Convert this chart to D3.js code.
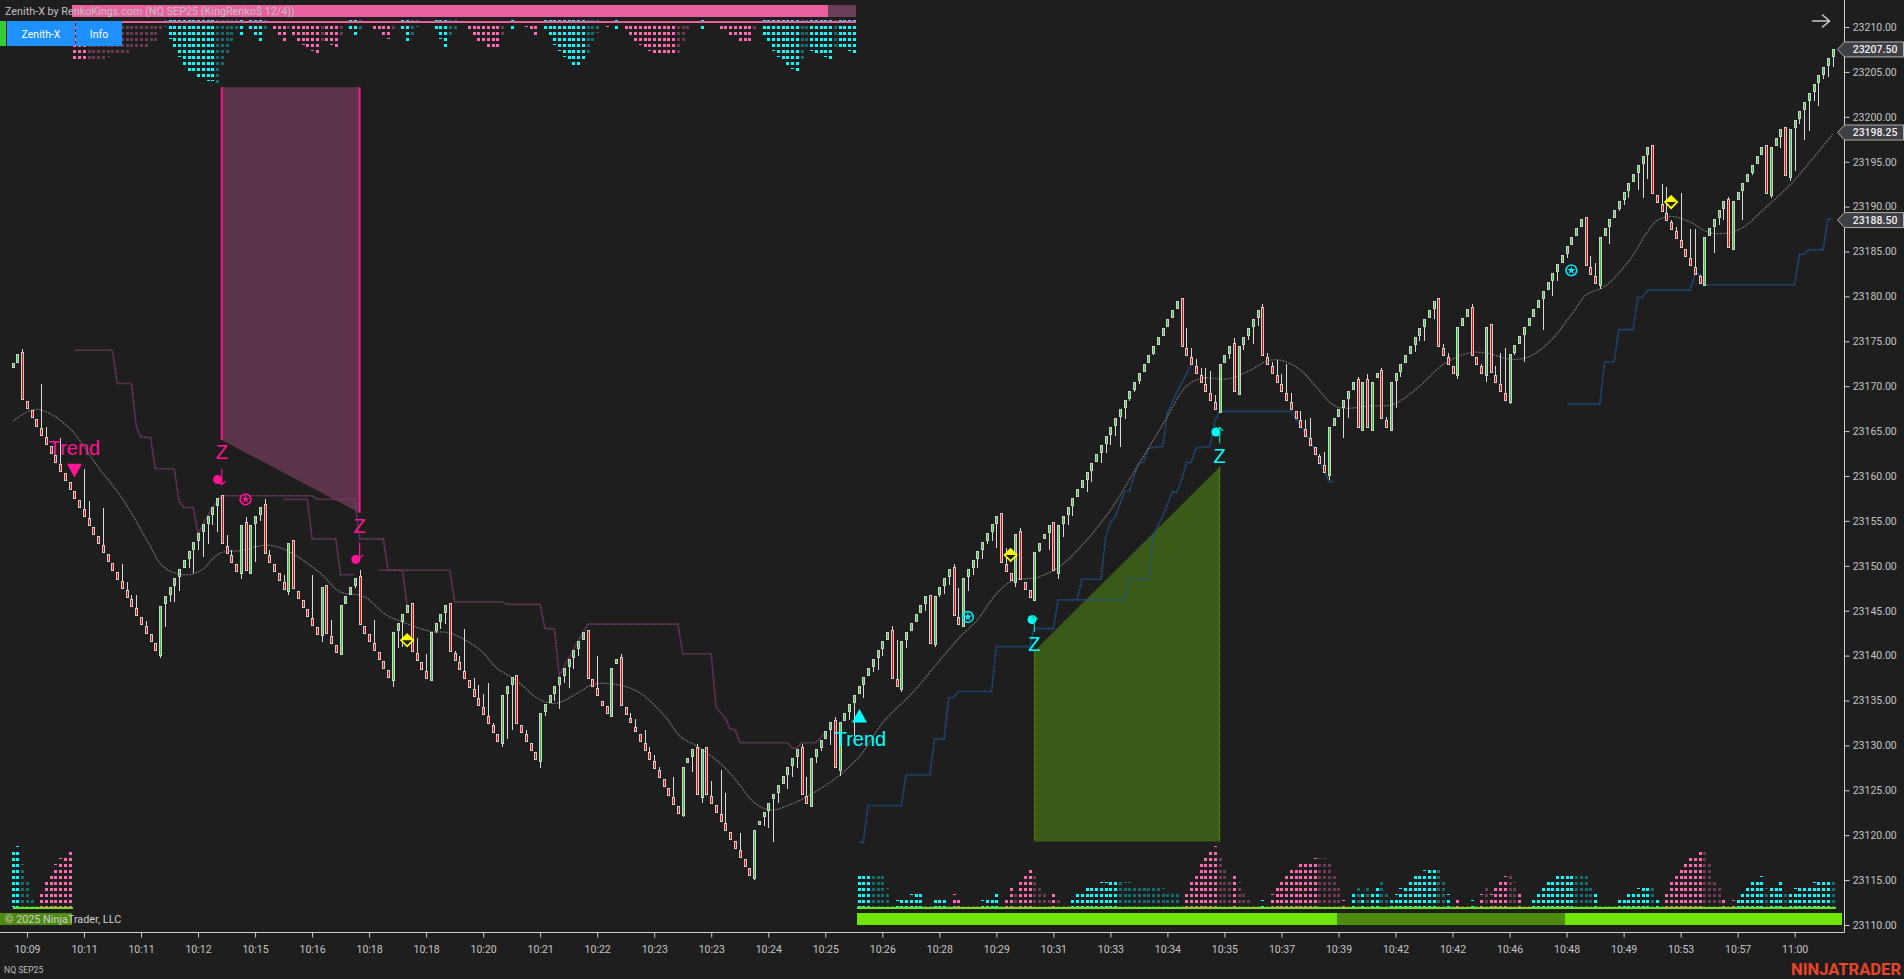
<!DOCTYPE html>
<html><head><meta charset="utf-8">
<script src="https://cdn.jsdelivr.net/npm/d3@7"></script>
<style>html,body{margin:0;padding:0;background:#1e1e1e;overflow:hidden}svg{display:block}</style>
</head><body>
<script>
// ---- values, in points above this base price ----
const basePrice = 23000;
const barCloses = [
172.6,173.6,168.6,167.6,166.6,165.6,164.6,163.6,162.6,161.6,160.6,159.6,158.6,157.6,156.6,155.6,154.6,153.6,152.6,151.6,
150.6,149.6,148.6,147.6,146.6,145.6,144.6,143.6,142.6,141.6,140.6,145.5,146.6,147.6,148.6,149.6,150.6,151.6,152.6,153.6,
154.6,155.6,156.6,157.6,152.5,151.5,150.5,149.5,154.5,149.5,154.5,155.5,156.5,151.4,150.4,149.4,148.4,147.4,152.5,147.5,
146.4,145.4,144.4,143.4,142.4,147.6,142.6,141.4,140.4,145.6,146.6,147.6,148.6,143.6,142.6,141.6,140.6,139.6,138.6,137.6,
142.6,143.6,144.6,145.6,140.5,139.5,138.5,137.5,142.6,143.6,144.6,145.6,140.5,139.5,138.5,137.5,136.5,135.5,134.5,133.5,
132.5,131.5,130.5,135.6,136.6,137.6,132.5,131.5,130.5,129.5,128.5,133.6,134.6,135.6,136.6,137.6,138.6,139.6,140.6,141.6,
142.6,137.6,136.6,135.6,134.6,133.6,138.6,139.6,134.5,133.5,132.5,131.5,130.5,129.5,128.5,127.5,126.5,125.5,124.5,123.5,
122.5,127.6,128.6,129.6,124.6,129.6,124.6,123.6,122.6,121.6,120.6,119.6,118.6,117.6,116.6,115.6,120.6,121.6,122.6,123.6,
124.6,125.6,126.6,127.6,128.6,129.6,124.6,123.6,128.6,129.6,130.6,131.6,132.6,127.6,132.6,133.6,134.6,135.6,136.6,137.6,
138.6,139.6,140.6,141.6,142.6,137.6,136.6,141.6,142.6,143.6,144.6,145.6,146.6,141.5,146.6,147.6,148.6,149.6,144.6,143.6,
148.6,149.6,150.6,151.6,152.6,153.6,154.6,155.6,150.4,149.4,148.4,153.5,148.5,147.5,146.5,151.5,152.5,153.5,154.5,149.5,
154.5,155.5,156.5,157.5,158.5,159.5,160.5,161.5,162.5,163.5,164.5,165.5,166.5,167.5,168.5,169.5,170.5,171.5,172.5,173.5,
174.5,175.5,176.5,177.5,178.5,179.5,174.5,173.5,172.5,171.5,170.5,169.5,168.5,167.5,172.5,173.5,174.5,169.5,174.5,175.5,
176.5,177.5,178.5,173.5,172.5,171.5,170.5,169.5,168.5,167.5,166.5,165.5,164.5,163.5,162.5,161.5,160.5,165.5,166.5,167.5,
168.5,169.5,170.5,165.5,170.5,165.5,170.5,171.5,166.5,165.5,170.5,171.5,172.5,173.5,174.5,175.5,176.5,177.5,178.5,179.5,
174.5,173.5,172.5,171.5,176.6,177.6,178.6,173.5,172.5,171.5,176.6,171.5,170.5,169.5,168.5,173.6,174.6,175.6,176.6,177.6,
178.6,179.6,180.6,181.6,182.6,183.6,184.6,185.6,186.6,187.6,188.6,183.5,182.5,181.5,186.6,187.6,188.6,189.6,190.6,191.6,
192.6,193.6,194.6,195.6,196.6,191.5,190.5,189.5,188.5,187.5,186.5,185.5,184.5,183.5,182.5,181.5,186.6,187.6,188.6,189.6,
190.6,185.5,190.6,191.6,192.6,193.6,194.6,195.6,196.6,191.5,196.6,197.6,198.6,193.5,198.6,199.6,200.6,201.6,202.6,203.6,
204.6,205.6,206.6,207.6];
const barOpensTall = [
[0,172.2],[1,172.7],[2,173.8],[31,140],[44,157.9],[48,149.2],[49,154.9],[50,149.2],[53,156.9],[58,147.2],[59,152.9],[65,142.2],[66,147.9],
[69,140.1],[73,148.9],[80,137.3],[84,145.9],[88,137.2],[92,145.9],[103,130.3],[106,137.8],[111,128.3],[121,142.9],[124,135],[126,133.3],
[127,139.1],[128,139.8],[130,133],[131,132],[141,122.2],[142,128.2],[144,129.8],[145,124.3],[146,129.8],[156,115.3],[157,121.3],[158,122.1],
[160,124.1],[166,129.8],[168,123.3],[173,132.8],[174,127.3],[185,142.9],[187,136.3],[193,146.8],[194,141.3],[198,149.9],[200,143.3],
[208,155.9],[211,148.2],[212,153.9],[215,146.2],[217,153],[219,154.9],[220,149.2],[246,179.8],[254,167.2],[257,174.8],[258,169.2],
[263,178.8],[277,160.2],[283,170.8],[284,165.2],[285,170.8],[286,165.2],[287,171],[288,171.8],[290,165.2],[300,179.8],[304,171.2],
[307,178.8],[310,171.2],[311,176.9],[315,168.2],[331,188.8],[334,181.2],[345,196.9],[356,181.2],[361,190.9],[362,185.2],[369,196.9],
[370,191.2],[373,198.9],[374,193.2]];
const wickTips = [
[2,174.1],[6,170.2],[7,165.5],[10,164.2],[15,160.8],[16,157.2],[19,156.4],[23,150.2],[24,148.2],[25,146.7],[26,146.7],[28,143.8],
[31,139.7],[32,143.2],[33,146],[34,146],[35,147.2],[37,149.8],[38,149.2],[39,151.8],[40,151],[41,152.4],[42,154.5],[43,153.8],
[45,153.4],[46,151.8],[47,150.2],[48,148.5],[49,155.4],[51,150.4],[52,155],[53,157.4],[54,151.8],[56,149],[57,149],[58,146.7],
[60,147],[63,149],[65,141.5],[67,144],[72,147.5],[73,149.5],[76,144],[80,136.5],[81,140.8],[82,141],[83,145],[85,142],[86,139],[87,140.2],
[89,142.5],[90,143],[91,143.5],[93,140.5],[94,140],[95,143],[97,137.5],[98,136.7],[99,135.7],[100,137],[101,132.5],[103,129.8],[104,130.7],
[105,131.7],[108,131.7],[110,129],[111,127.5],[112,133.3],[113,134.8],[114,135],[115,134],[116,137],[117,136.4],[118,138.5],[119,140],
[123,140],[128,140.2],[130,133.6],[131,132.9],[133,131.7],[134,129.8],[135,128.9],[136,127.6],[139,126.5],[141,122],[143,127],[144,130.2],
[145,123.6],[147,126],[149,127.3],[150,124.7],[153,120.2],[156,115],[158,121],[159,120.8],[160,119.2],[161,123.6],[163,125.2],[164,126.5],
[165,127.5],[166,130.2],[167,126.5],[169,128],[170,129.4],[172,130],[173,133.2],[174,126.6],[176,132.8],[177,131],[179,135.3],[181,138.2],
[182,138.4],[183,140],[185,143.3],[186,141.7],[187,135.9],[188,140.8],[191,144.8],[192,145],[194,141],[195,146.5],[196,146.9],[197,147.9],
[198,150.2],[199,147.5],[201,147.2],[202,149],[203,149.7],[204,150.8],[205,152.4],[206,152.8],[207,152],[209,152],[211,147.6],[212,154.2],
[214,146.7],[216,151.5],[218,151.8],[220,148.5],[221,153.2],[222,154.5],[223,155.5],[226,158.2],[227,159.3],[229,161.5],[230,162.6],
[231,163.5],[232,164.5],[233,163.2],[234,166.4],[235,168.3],[236,169.3],[237,170.3],[239,172.6],[240,173.5],[247,176.5],[248,174.3],
[249,173],[250,172],[251,172],[252,171.7],[253,169],[256,173],[257,175.4],[259,174],[260,175.2],[261,174.7],[262,176.7],[263,179.2],
[264,173.7],[265,172.7],[266,172.9],[267,171.4],[268,172.5],[269,169.2],[271,167.2],[272,166.2],[273,166.5],[275,162.5],[276,162.7],
[277,159.6],[280,164.2],[281,166.5],[282,169.6],[283,171],[284,165],[285,171.4],[286,165],[288,172],[289,166.6],[291,167.6],[292,171],
[295,173.8],[296,175],[297,175],[298,177.6],[299,177.5],[301,174.7],[302,173.7],[304,170.8],[307,179.2],[309,172.5],[310,170.5],[312,172.2],
[313,173.7],[314,174.2],[315,168],[316,173.5],[318,172.7],[322,176.3],[324,180],[325,181.7],[327,184.3],[332,184.5],[333,183.7],[334,180.8],
[336,185.8],[338,189.5],[339,190.2],[340,191],[342,191.8],[343,191],[344,193.1],[347,192.5],[348,192.2],[349,188.5],[350,187.7],[351,191.5],
[353,187.5],[354,187.5],[355,182.4],[358,184.8],[359,188],[360,188.5],[361,191.1],[364,188.5],[366,193.5],[370,191],[372,196.5],[374,192.8],
[375,194],[376,199.2],[377,197.4],[378,198.4],[379,201.8],[380,201.2],[381,204.2],[382,204.4],[383,205.5]];
const averageKnots = [
[0,166.1],[4,167.35],[6.4,167.3],[12,165.3],[17.7,161.2],[23.3,157.3],[28.2,152.9],[31.7,149.9],[35.9,149],[39.4,149.4],[43.6,151.4],[47.9,151.7],
[53.5,152.3],[57.7,151.7],[64.7,149.2],[68.9,147.1],[73.8,146.6],[78.7,144.5],[82.2,143.7],[87.9,142.7],[92.1,142.5],[98.4,140.6],[101.9,138.6],
[106.1,137.2],[110,135.4],[113.1,134.7],[115.2,134.8],[119.4,136],[122.2,136.8],[127.9,136.7],[132.1,135.8],[137,133.4],[140.5,131],[144,129.9],
[148.9,128],[152.4,126],[155.9,123.7],[159.4,122.8],[163.6,123.4],[168.5,124.7],[173.8,126.6],[178.4,128.9],[183.2,132.6],[189.6,136],[194.5,139.1],
[199.4,142.1],[203,144],[207.2,147],[210.7,148.4],[215.6,148.7],[220.5,150],[225.4,152.5],[231,156.2],[236.6,161],[242.2,165.9],[247.2,170.1],
[250.6,170.9],[255.6,170.8],[260.5,171.8],[264,172.8],[266.8,172.9],[271,171.8],[274.5,169.8],[278.7,167.7],[285.7,167.8],[290.6,168],[295.6,169.8],
[301,172.4],[306.4,173.7],[310,173.7],[315.4,173],[319.1,173.3],[323.7,175.1],[328.2,178.1],[331.2,180.2],[335,181.1],[340.2,184],[344,187.2],
[346.2,188.5],[349.2,188.9],[352.9,188.3],[357.1,187.1],[361.2,187.1],[364.2,187.7],[368.7,189.8],[374,192.4],[379.2,195.6],[383,198.1]];
const pinkStopLines = [
[[13,174],[21,174],[22,170.3],[25,170.3],[26,165.5],[27,164.3],[29,164.3],[30,160.8],[34,160.8],[35,157.2],[36,156.5],[38,156.5],[39,153.6],[42,156.5],[44,157.8],
 [63,157.8],[64,157.4],[72,157.4],[73,153],[78,153],[79,149.5],[92,149.5],[93,146],[103,146],[104,145.7],[111,145.7],[112,143],[114,143],[115,137.8],[121,143.5],
 [140,143.5],[141,140.2],[147,140.2],[148,134.3],[150,133],[151,131.8],[152,131.8],[153,130.3],[163,130.3],[164,129.7],[165,129.7],[166,130.3],[169,130.3],[171,131.4]],
[[57,157.4],[62,157.4],[63,153],[68,153],[69,149],[72,149]],
[[77,149.5],[82,149.5],[83,145.6]]];
const blueStopLines = [
[[178.2,119.2],[179,119.2],[180,123.3],[187,123.3],[188,126.7],[193,126.7],[194,130.7],[196,130.7],[197,135.3],[198,135.3],[199,136],[206,136],[207,141],[214,141],
 [215,143],[219,143],[220,146.2],[224,146.2],[225,148.5],[229,148.5],[230,153.2],[231,154.8],[232,155.4],[234,158.3],[235,158.3],[236,160],[237,161.5],[238,161.5],
 [239,163.1],[242,163.3],[243,167],[244.4,168.7],[248,172.4]],
[[224,146.2],[234,146.2],[235,148.5],[239,148.5],[240,153.4],[242,155.5],[244,158.2],[245,158.2],[246,159.6],[247,161.5],[248,161.5],[249,163.1],[252,163.3],[253,166.2],
 [254,167.2],[269,167.2],[273,164],[277,159.4],[278,159.4]],
[[327.2,168],[334,168],[335,172.7],[337,172.7],[338,176.3],[341,176.3],[342,179.9],[343,179.9],[344,180.7],[353,180.7],[354,182.5],[355,182.5],[356,181.3],[375,181.3],
 [376,184.7],[377,184.7],[378,185.2],[381,185.2],[382,188.6],[383,188.6]]];
const pinkArea = [[44,203.3,164],[73,203.3,155.9]];
const greenArea = [[215,140.5,119.3],[254,161,119.3]];
// oscillator dots: + cyan, - pink, .5 means a short top dot; one entry per bar
const oscillator = [
9,9.5,6.5,4,1,0,-2,-4,-5,-6.5,-7.5,-8,-9,-6,-6,-6,-6,-6,-6,-6,-5.4,-5,-5,-5,-5,-4,-4,-4,-4,-3,-3,-1,.5,2.5,4,5.5,7,8,8,9,
9,9.5,9.5,10,7,5,3,1,2,0,1,2,3,1,0,-1,-2,-3,-1,-2,-3,-3.5,-4,-4.5,-5,-3,-3,-3.5,-4,-2,0,1,2,1,0,0,-1,-1,-2,-2.5,
-1,0,1,3,2,.5,0,0,0,1,2.5,4,2,1,0,0,-1,-2,-3,-3,-4,-4,-4,-2,0,1,0,0,-.5,-1,-2,0,1,2,3.5,4.5,5.5,6,7,7,
6,5,3,1.5,0,-.5,0,1,0,-1,-2,-3,-3.5,-4,-4.5,-5,-5,-5,-5,-5,-5,-3,-1,0,0,1,0,0,0,-1,-1,-2,-2,-3,-3,-3,-1,0,2,3,
4.5,5.5,6,7,7.5,8,6,4,4.5,5,5,5.5,6,4,4,4,4.5,5,5,5,5,5,5,5,2.5,0,.5,1,1,1.5,2,2,0,0,1,1,1,0,-1.5,-1,
0,0,0,0,.5,1,1,2,0,-1,-3,-2,-4,-5,-6,-5,-3,-2,-1,-2,-1,0,0,1,2,2,3,3,3,3.5,3.5,4,4,4,3.5,3.5,3,3,3,3,
3,3,2.5,2,2,2,0,-2,-4,-5,-7,-8,-9,-9.5,-8,-6,-4,-5,-3.5,-2,-1,0,0,.5,0,-1.5,-3,-4,-5,-6,-6,-7,-7,-7,-7.5,-7.5,-7.5,-7,-5,-3,
-.5,0,2,3,2,3,2,3,4,2,1,1.5,2.5,3,4,5,5,5.5,6,6,6,4,1.5,0,-1,0,0,.5,0,-1.5,-3,-1.5,-3,-4,-4.5,-5,-3.5,-2,0,0,
1,2,3,4,4,5,5,5,5,5,5,5,3,2,0,0,0,0,1,1,2,2,2.5,3,3,3,1,-0,-2,-4,-5,-6,-7,-8,-8,-9,-9,-7,-4,-3,
-1,0,-.5,1,2,3,4,4,4.5,2.5,3,3,4,2,2,2.5,3,3,3,3.5,4,4,4,4];
const dimmedBars = [2,3,4,16,17,18,19,20,21,22,23,24,25,26,27,28,29,30,31,32,43,44,45,46,47,53,58,65,69,73,80,84,85,92,93,103,121,122,123,140,141,142,156,
166,167,173,181,182,183,184,185,200,211,215,216,217,218,220,233,234,235,236,237,238,239,240,241,242,243,244,245,254,255,256,258,259,260,275,276,277,278,279,
283,285,288,289,300,301,310,315,316,329,330,331,332,345,356,357,358,359,369,373,383];
const timeLabels = ["10:09","10:11","10:11","10:12","10:15","10:16","10:18","10:18","10:20","10:21","10:22","10:23","10:23","10:24","10:25","10:26",
"10:28","10:29","10:31","10:33","10:34","10:35","10:37","10:39","10:42","10:42","10:46","10:48","10:49","10:53","10:57","11:00"];
const priceTicks = [23110,23115,23120,23125,23130,23135,23140,23145,23150,23155,23160,23165,23170,23175,23180,23185,23190,23195,23200,23205,23210];
const priceFlags = [23207.5,23198.25,23188.5];
const dots = [[43.1,159.6,"#ff1493"],[72.2,150.7,"#ff1493"],[253.2,164.9,"#00ffff"],[214.5,144,"#00ffff"]];
const zLabels = [[44,162.7,"#ff1493",1],[73,154.5,"#ff1493",1],[254,162.3,"#00ffff",-1],[215,141.3,"#00ffff",-1]];
const ringStars = [[49,157.4,"#ff1493"],[201,144.3,"#00e5ee"],[328,182.9,"#00e5ee"]];
const diamonds = [[83,141.7],[210,151.2],[349,190.5]];
const trendMarks = [[13,163.1,160.6,"#ff1493",-1],[178.4,130.7,133.3,"#00ffff",1]];

// ---- drawing ----
const W=1904,H=979,BG="#1e1e1e";
const svg=d3.select("body").append("svg").attr("width",W).attr("height",H);
svg.append("rect").attr("width",W).attr("height",H).attr("fill",BG);
const x=d3.scaleLinear().domain([0,383]).range([12.7,1832.7]);
const y=d3.scaleLinear().domain([23110,23210]).range([925,27]);
const P=v=>y(basePrice+v);
const crisp=g=>g.attr("shape-rendering","crispEdges");
const line=d3.line().x(d=>x(d[0])).y(d=>P(d[1]));

// areas
const areas=svg.append("g");
areas.append("path").attr("d",d3.area().x(d=>x(d[0])).y0(d=>P(d[1])).y1(d=>P(d[2]))(pinkArea)).attr("fill","#5c3349");
pinkArea.forEach(d=>areas.append("rect").attr("x",x(d[0])-1).attr("width",2).attr("y",P(d[1])).attr("height",P(d[2])-P(d[1])).attr("fill","#ff1493"));
areas.append("path").attr("d",d3.area().x(d=>x(d[0])).y0(d=>P(d[1])).y1(d=>P(d[2]))(greenArea)).attr("fill","#3a5a18");
greenArea.forEach(d=>areas.append("line").attr("x1",x(d[0])).attr("x2",x(d[0])).attr("y1",P(d[1])).attr("y2",P(d[2])).attr("stroke","#7fb514").attr("stroke-width",1).attr("stroke-dasharray","1 1"));

// stop lines, average
svg.append("g").selectAll("path").data(pinkStopLines).join("path").attr("d",line).attr("fill","none").attr("stroke","#7a3f68").attr("stroke-width",1.6).attr("stroke-dasharray","1 .6");
svg.append("g").selectAll("path").data(blueStopLines).join("path").attr("d",line).attr("fill","none").attr("stroke","#1f5590").attr("stroke-width",1.6).attr("stroke-dasharray","1 .6");
svg.append("path").attr("d",d3.line().curve(d3.curveCatmullRom).x(d=>x(d[0])).y(d=>P(d[1]))(averageKnots)).attr("fill","none").attr("stroke","#6e6e6e").attr("stroke-width",1.2).attr("stroke-dasharray","2 1");

// bars
const openMap=new Map(barOpensTall);
const bars=barCloses.map((c,i)=>{
  const up=i===0?true:c>barCloses[i-1];
  const o=openMap.has(i)?openMap.get(i):(up?c-.75:c+.75);
  return {i,c,o,up};
});
const Xr=i=>Math.round(x(i));
crisp(svg.append("g")).selectAll("rect").data(wickTips).join("rect").attr("x",d=>Xr(d[0])).attr("width",1)
  .attr("y",d=>Math.min(P(d[1]),P(barCloses[d[0]]))).attr("height",d=>Math.abs(P(d[1])-P(barCloses[d[0]]))).attr("fill","#d8d8d8");
const bg=crisp(svg.append("g"));
bg.selectAll("rect.o").data(bars).join("rect").attr("class","o").attr("x",d=>Xr(d.i)-1).attr("width",3)
  .attr("y",d=>Math.round(P(Math.max(d.o,d.c)))).attr("height",d=>Math.max(3,Math.round(Math.abs(P(d.o)-P(d.c)))+1)).attr("fill","#d0d0d0");
bg.selectAll("rect.f").data(bars).join("rect").attr("class","f").attr("x",d=>Xr(d.i)).attr("width",1)
  .attr("y",d=>Math.round(P(Math.max(d.o,d.c)))+1).attr("height",d=>Math.max(1,Math.round(Math.abs(P(d.o)-P(d.c)))-1)).attr("fill",d=>d.up?"#32cd32":"#ff0000");

// oscillator strips
const dim=new Set(dimmedBars);
const rowTop=d3.scaleLinear().domain([0,10]).range([21.3,81.3]);
const rowBottom=d3.scaleLinear().domain([0,10]).range([907.3,847.3]);
const inTop=i=>i>=13&&i<=177;
const colour=(v,i)=>{
  let s=v; for(let k=i;s===0&&k>=0;k--) s=oscillator[k];
  const d=dim.has(i)||v===0;
  return s>=0?(d?"#0f6e70":"#00ffff"):(d?"#6b3a55":"#ff69b4");
};
const oscDots=[];
oscillator.forEach((v,i)=>{
  const a=Math.abs(v),full=Math.floor(a),top=inTop(i);
  if(top) return;
  const c=colour(v,i);
  oscDots.push({i,r:0,h:1.5,c});
  for(let r=1;r<=full;r++) oscDots.push({i,r,h:3,c});
  if(a>full) oscDots.push({i,r:full+1,h:1.5,c});
});
const oscTopDots=[];
oscillator.forEach((v,i)=>{
  const a=Math.abs(v),full=Math.floor(a);
  if(!inTop(i)) return;
  const c=colour(v,i);
  if(v>0) oscTopDots.push({i,r:0,h:1.5,c});
  for(let r=1;r<=full;r++) oscTopDots.push({i,r,h:3,c});
  if(a>full) oscTopDots.push({i,r:full+1,h:1.5,c});
});
const sg=crisp(svg.append("g"));
// top bars
sg.append("rect").attr("x",72).attr("width",784).attr("y",5).attr("height",12).attr("fill","#e8609f");
sg.append("rect").attr("x",828).attr("width",28).attr("y",5).attr("height",12).attr("fill","#6b3f5a");
sg.append("rect").attr("x",72).attr("width",784).attr("y",21).attr("height",2).attr("fill","#e8609f");
sg.selectAll("rect.t").data(oscTopDots).join("rect").attr("class","t").attr("x",d=>Xr(d.i)-1).attr("width",3)
  .attr("y",d=>rowTop(d.r)-1.5).attr("height",d=>d.h).attr("fill",d=>d.c);
sg.selectAll("rect.b").data(oscDots).join("rect").attr("class","b").attr("x",d=>Xr(d.i)-1).attr("width",3)
  .attr("y",d=>rowBottom(d.r)-1.5).attr("height",d=>d.h).attr("fill",d=>d.c);
// baselines
[[0,12.6],[177.6,383.6]].forEach(s=>sg.append("rect").attr("x",x(s[0])).attr("width",x(s[1])-x(s[0])).attr("y",907).attr("height",2).attr("fill","#70e600"));
sg.append("rect").attr("x",0).attr("width",72).attr("y",913).attr("height",12).attr("fill","#4f8a10");
sg.append("rect").attr("x",857).attr("width",985).attr("y",913).attr("height",12).attr("fill","#70e600");
sg.append("rect").attr("x",1337).attr("width",228).attr("y",913).attr("height",12).attr("fill","#4f8a10");

// markers
const mk=svg.append("g").attr("font-family","'Liberation Sans',Arial,sans-serif");
mk.selectAll("circle.d").data(dots).join("circle").attr("class","d").attr("cx",d=>x(d[0])).attr("cy",d=>P(d[1])).attr("r",4.5).attr("fill",d=>d[2]);
zLabels.forEach(d=>{
  const X=x(d[0]),Y=P(d[1]),s=d[3],col=d[2];
  mk.append("text").attr("x",X).attr("y",Y+7.5).attr("text-anchor","middle").attr("font-size",20).attr("fill",col).text("Z");
  const y0=Y+s*(s>0?17:12),y1=Y+s*(s>0?33:28);
  const ac=s>0?"#ff1493":"#00d8b0";
  mk.append("line").attr("x1",X).attr("x2",X).attr("y1",y0).attr("y2",y1).attr("stroke",ac).attr("stroke-width",1.2);
  mk.append("path").attr("d",`M${X-3.5},${y1-s*3.5}L${X},${y1}L${X+3.5},${y1-s*3.5}`).attr("fill","none").attr("stroke",ac).attr("stroke-width",1.2);
});
ringStars.forEach(d=>{
  const g=mk.append("g").attr("transform",`translate(${x(d[0])},${P(d[1])})`);
  g.append("circle").attr("r",5.4).attr("fill","none").attr("stroke",d[2]).attr("stroke-width",1.6);
  g.append("path").attr("d",d3.symbol().type(d3.symbolStar).size(22)()).attr("fill",d[2]);
});
diamonds.forEach(d=>{
  const g=mk.append("g").attr("transform",`translate(${x(d[0])},${P(d[1])})`);
  g.append("path").attr("d","M0,-6L6,0L0,6L-6,0Z").attr("fill","#1e1e1e").attr("stroke","#ffff00").attr("stroke-width",1.8);
  g.append("path").attr("d","M-6,0L0,-6L6,0Z").attr("fill","#ffff00");
});
trendMarks.forEach(d=>{
  mk.append("text").attr("x",x(d[0])).attr("y",P(d[1])+7).attr("text-anchor","middle").attr("font-size",20).attr("fill",d[3]).text("Trend");
  const X=x(d[0])+(d[4]>0?-1:0),Y=P(d[2]),s=d[4];
  mk.append("path").attr("d",`M${X-7.5},${Y+s*6.8}L${X+7.5},${Y+s*6.8}L${X},${Y-s*6.8}Z`).attr("fill",d[3]);
});

// axes
const axisFont="Roboto,'Liberation Sans',sans-serif";
const yAxis=svg.append("g").attr("transform","translate(1844.5,0)").call(d3.axisRight(y).tickValues(priceTicks).tickSize(5).tickPadding(3).tickFormat(d3.format(".2f")));
const xAxis=svg.append("g").attr("transform","translate(0,932.5)").call(d3.axisBottom(x).tickValues(timeLabels.map((_,k)=>3+12*k)).tickSize(5).tickPadding(8).tickFormat((_,k)=>timeLabels[k]));
[yAxis,xAxis].forEach(a=>{a.select(".domain").remove();a.selectAll("line").attr("stroke","#cfcfcf");a.selectAll("text").attr("fill","#c4c4c4").attr("font-family",axisFont).attr("font-size",10.5);});
yAxis.selectAll("text").attr("x",8.2);
svg.append("line").attr("x1",1844.5).attr("x2",1844.5).attr("y1",0).attr("y2",932.5).attr("stroke","#cfcfcf");
svg.append("line").attr("x1",0).attr("x2",1844.5).attr("y1",932.5).attr("y2",932.5).attr("stroke","#cfcfcf");

// price flags
priceFlags.forEach(p=>{
  const Y=y(p);
  svg.append("path").attr("d",`M1837.5,${Y}L1844.5,${Y-7.5}L1903.5,${Y-7.5}L1903.5,${Y+7.5}L1844.5,${Y+7.5}Z`).attr("fill","#3f3f46").attr("stroke","#b0b0b0").attr("stroke-width",1);
  svg.append("text").attr("x",1852.7).attr("y",Y+3.8).attr("font-family",axisFont).attr("font-size",10.5).attr("font-weight",500).attr("fill","#f0f0f0").text(d3.format(".2f")(p));
});

// arrow
svg.append("path").attr("d","M1812,21H1829M1822,14.5L1829.5,21L1822,27.5").attr("fill","none").attr("stroke","#c8c8c8").attr("stroke-width",1.6);

// header, buttons, footer
const txt=(s,X,Yy,size,fill,extra={})=>{const t=svg.append("text").attr("x",X).attr("y",Yy).attr("font-family",axisFont).attr("font-size",size).attr("fill",fill).text(s);Object.entries(extra).forEach(([k,v])=>t.attr(k,v));return t;};
txt("Zenith-X by RenkoKings.com (NQ SEP25 (KingRenko$ 12/4))",5,15.3,10.8,"#c0c0c0");
svg.append("rect").attr("x",0).attr("y",21).attr("width",6).attr("height",25).attr("fill","#32cd32");
svg.append("rect").attr("x",7).attr("y",21).attr("width",68).attr("height",25).attr("fill","#1e90ff");
svg.append("rect").attr("x",76).attr("y",21).attr("width",46).attr("height",25).attr("fill","#1e90ff");
txt("Zenith-X",41,37.5,10.5,"#ffffff",{"text-anchor":"middle"});
txt("Info",99,37.5,10.5,"#ffffff",{"text-anchor":"middle"});
txt("© 2025 NinjaTrader, LLC",5,923.3,10.8,"#d0d0d0");
txt("NQ SEP25",4,972.7,8.6,"#bdbdbd");
txt("NINJATRADER",1791,975,17,"#e8452a",{"font-weight":700,"textLength":110,"lengthAdjust":"spacingAndGlyphs"});
</script>
</body></html>
